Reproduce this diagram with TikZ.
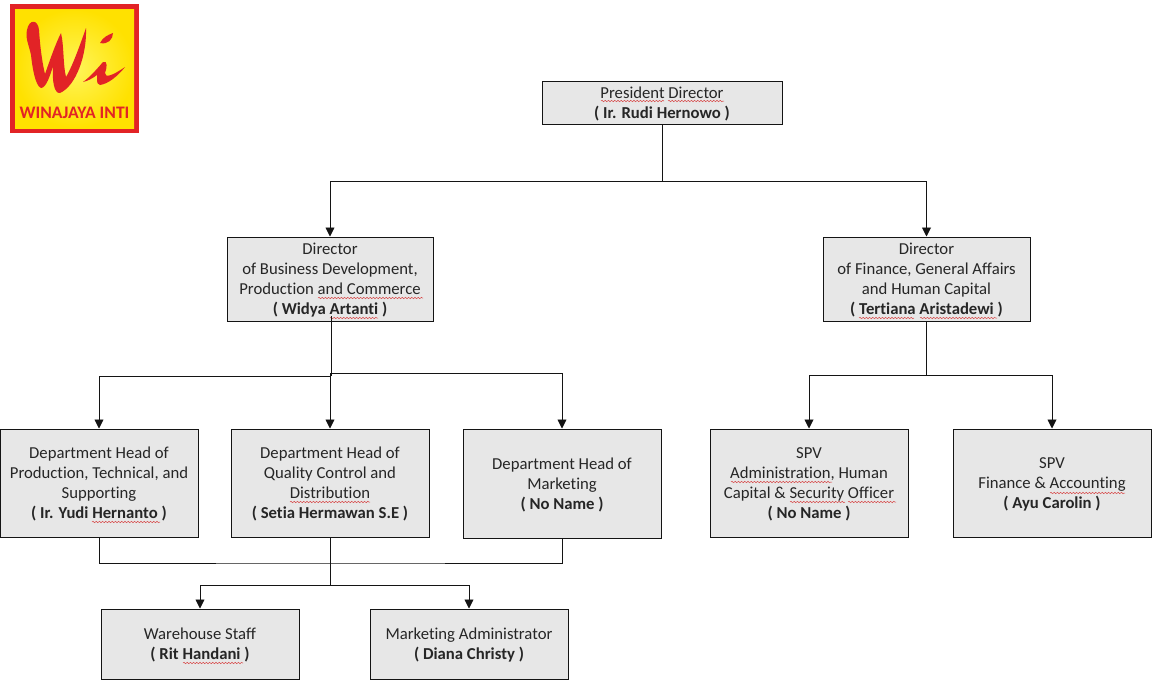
\documentclass[tikz,border=0pt]{standalone}
\usepackage{fontspec}
\setmainfont[Ligatures={NoCommon}]{Carlito}
\usetikzlibrary{arrows.meta,decorations.pathmorphing}
\definecolor{boxgray}{RGB}{231,231,231}
\definecolor{inkline}{RGB}{20,20,20}
\definecolor{logored}{RGB}{226,35,38}
\definecolor{logoyellow}{RGB}{255,225,0}
\definecolor{logolight}{RGB}{255,245,90}
\definecolor{squig}{RGB}{215,70,70}
\tikzset{
  orgbox/.style={draw=inkline,line width=1pt,fill=boxgray,inner sep=0pt,text=black!85,
    font=\fontsize{16.7}{20}\selectfont},
  conn/.style={draw=inkline,line width=0.9pt},
  arr/.style={conn,-{Triangle[length=9pt,width=9pt]}},
  wavy/.style={draw=squig,line width=0.5pt,decorate,decoration={snake,amplitude=0.7pt,segment length=3.2pt}},
}
\newcommand{\squiggle}[3]{\draw[wavy] (#1,#3) -- (#2,#3);}
\newcommand{\boxlines}[1]{\raisebox{-1.7pt}[\height][\depth]{\begin{tabular}{@{}c@{}}#1\end{tabular}}}
\begin{document}
\begin{tikzpicture}[x=1pt,y=-1pt]
\useasboundingbox (0,0) rectangle (1165,691);
\fill[white] (0,0) rectangle (1165,691);
% logo
\fill[logored] (10,4) rectangle (139,133);
\shade[inner color=logolight,outer color=logoyellow] (15,9) rectangle (134,128);
\fill[logored] (27,30) .. controls (29,19) and (38,19) .. (39,30)
  .. controls (40,45) and (42,62) .. (45,74)
  .. controls (50,60) and (55,45) .. (61,33)
  .. controls (64,45) and (63,65) .. (66,77)
  .. controls (73,65) and (80,45) .. (86,28)
  .. controls (87,55) and (76,86) .. (60,93)
  .. controls (54,94) and (52,80) .. (53,66)
  .. controls (50,76) and (46,88) .. (41,88)
  .. controls (35,86) and (32,65) .. (31,55)
  .. controls (29,45) and (25,38) .. (27,30) -- cycle;
\fill[logored] (100,43) .. controls (103,37) and (108,35) .. (113,33) .. controls (113,39) and (108,45) .. (100,43) -- cycle;
\fill[logored] (83,82) .. controls (90,77) and (97,69) .. (103,62)
  .. controls (108,60) and (107,68) .. (105,73)
  .. controls (105,78) and (112,76) .. (125,67)
  .. controls (118,76) and (108,84) .. (100,85)
  .. controls (95,84) and (98,77) .. (97,75)
  .. controls (93,78) and (88,81) .. (83,82) -- cycle;
\node[inner sep=0pt,text=logored,font=\fontsize{17.6}{18}\selectfont\bfseries] (logotext) at (74.5,113) {WINAJAYA INTI};
% boxes
\node[orgbox,minimum width=240pt,minimum height=43pt] (pres) at (662,102.5) {\boxlines{President Director\\\textbf{( Ir. Rudi Hernowo )}}};
\node[orgbox,minimum width=206pt,minimum height=84pt] (dira) at (330,279) {\boxlines{Director\\of Business Development,\\Production and Commerce\\\textbf{( Widya Artanti )}}};
\node[orgbox,minimum width=207pt,minimum height=84pt] (dirb) at (926.5,279) {\boxlines{Director\\of Finance, General Affairs\\and Human Capital\\\textbf{( Tertiana Aristadewi )}}};
\node[orgbox,minimum width=198pt,minimum height=108pt] (dept1) at (99,483) {\boxlines{Department Head of\\Production, Technical, and\\Supporting\\\textbf{( Ir. Yudi Hernanto )}}};
\node[orgbox,minimum width=198pt,minimum height=108pt] (dept2) at (330,483) {\boxlines{Department Head of\\Quality Control and\\Distribution\\\textbf{( Setia Hermawan S.E )}}};
\node[orgbox,minimum width=198pt,minimum height=109pt] (dept3) at (562,483.5) {\boxlines{Department Head of\\Marketing\\\textbf{( No Name )}}};
\node[orgbox,minimum width=198pt,minimum height=108pt] (spva) at (809,483) {\boxlines{SPV\\Administration, Human\\Capital \& Security Officer\\\textbf{( No Name )}}};
\node[orgbox,minimum width=198pt,minimum height=108pt] (spvb) at (1052,483) {\boxlines{SPV\\Finance \& Accounting\\\textbf{( Ayu Carolin )}}};
\node[orgbox,minimum width=198pt,minimum height=70pt] (ware) at (200,644) {\boxlines{Warehouse Staff\\\textbf{( Rit Handani )}}};
\node[orgbox,minimum width=198pt,minimum height=70pt] (mark) at (469,644) {\boxlines{Marketing Administrator\\\textbf{( Diana Christy )}}};
% spell-check underlines
\squiggle{601}{664}{101}\squiggle{668}{724}{101}
\squiggle{318}{423}{298}\squiggle{330}{378}{318}
\squiggle{859}{914}{318}\squiggle{920}{997}{318}
\squiggle{92}{160}{522}
\squiggle{290}{370}{502}
\squiggle{183}{243}{663}
\squiggle{731}{832}{482}\squiggle{790}{845}{502}\squiggle{848}{896}{502}
\squiggle{1050}{1125}{493}
% junctions
\coordinate (j1) at (662,181);
\coordinate (j2) at (331,376);
\coordinate (j3) at (331,373);
\coordinate (j4) at (926.5,375);
\coordinate (j5) at (330,563);
\coordinate (j6) at (330,585);
\coordinate (dirtap) at (331,316);
% connectors
\draw[conn] (pres.south) -- (j1);
\draw[arr] (j1) -| (dira.north);
\draw[arr] (j1) -| (dirb.north);
\draw[conn] (dirtap) -- (j2);
\draw[arr] (j2) -| (dept1.north);
\draw[arr] (j3) -| (dept3.north);
\draw[arr] (j3 -| dept2.north) -- (dept2.north);
\draw[conn] (dirb.south) -- (j4);
\draw[arr] (j4) -| (spva.north);
\draw[arr] (j4) -| (spvb.north);
\draw[conn] (dept1.south) |- (j5) -| (dept3.south);
\draw[conn] (dept2.south) -- (j6);
\draw[arr] (j6) -| (ware.north);
\draw[arr] (j6) -| (mark.north);
\end{tikzpicture}
\end{document}
